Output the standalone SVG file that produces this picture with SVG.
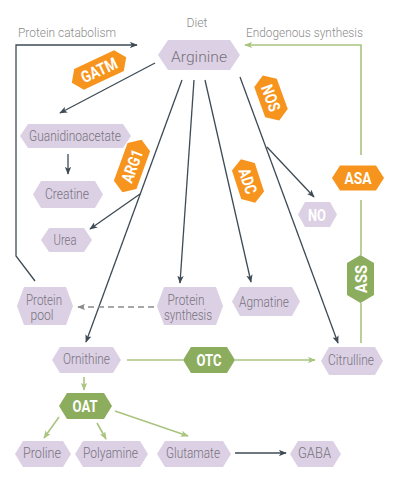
<svg xmlns="http://www.w3.org/2000/svg" width="410" height="486" viewBox="0 0 410 486">
<defs>
<style>
.nd{fill:#dcd0e4}
.lb{font-family:Roboto,"Liberation Sans",sans-serif;font-weight:300;font-size:14px;fill:#77737d}
.hd{font-family:Roboto,"Liberation Sans",sans-serif;font-weight:300;font-size:13.5px;fill:#8c8c8c}
.en{font-family:Roboto,"Liberation Sans",sans-serif;font-weight:700;font-size:16.5px;fill:#ffffff}
.or{fill:#f7941d}
.gr{fill:#8dad5e}
.dk{stroke:#3e4b55;stroke-width:1.3;fill:none}
.gl{stroke:#a9c47f;stroke-width:1.6;fill:none}
.ds{stroke:#8a8a8a;stroke-width:1.6;fill:none;stroke-dasharray:6 4}
</style>
<marker id="ad" viewBox="0 0 10 8" refX="9" refY="4" markerWidth="8" markerHeight="6.4" markerUnits="userSpaceOnUse" orient="auto">
<path d="M0,0 L10,4 L0,8 L2.5,4 z" fill="#3e4b55"/>
</marker>
<marker id="ag" viewBox="0 0 10 8" refX="9" refY="4" markerWidth="8" markerHeight="6.4" markerUnits="userSpaceOnUse" orient="auto">
<path d="M0,0 L10,4 L0,8 L2.5,4 z" fill="#a9c47f"/>
</marker>
<marker id="ay" viewBox="0 0 10 8" refX="9" refY="4" markerWidth="8" markerHeight="6.4" markerUnits="userSpaceOnUse" orient="auto">
<path d="M0,0 L10,4 L0,8 L2.5,4 z" fill="#8a8a8a"/>
</marker>
</defs>
<rect width="410" height="486" fill="#ffffff"/>

<g id="headers">
<text class="hd" x="197" y="27" text-anchor="middle" textLength="21" lengthAdjust="spacingAndGlyphs">Diet</text>
<text class="hd" x="18" y="37" textLength="98" lengthAdjust="spacingAndGlyphs">Protein catabolism</text>
<text class="hd" x="246" y="37" textLength="117" lengthAdjust="spacingAndGlyphs">Endogenous synthesis</text>
</g>

<g id="connectors">
<path class="dk" d="M35,281 L16,256 L16,45 L137,45" marker-end="url(#ad)"/>
<path class="dk" d="M155,63 L60,113" marker-end="url(#ad)"/>
<path class="dk" d="M68,154 L68,174" marker-end="url(#ad)"/>
<path class="dk" d="M182,80 L86,342" marker-end="url(#ad)"/>
<path class="dk" d="M140,194 L90,229" marker-end="url(#ad)"/>
<path class="dk" d="M194,80 L180,283" marker-end="url(#ad)"/>
<path class="dk" d="M205,80 L251,282" marker-end="url(#ad)"/>
<path class="dk" d="M240,77 L338,343" marker-end="url(#ad)"/>
<path class="dk" d="M267,147 L314,197" marker-end="url(#ad)"/>
<path class="dk" d="M235,453 L286,453" marker-end="url(#ad)"/>
<path class="ds" d="M154,307 L78,307" marker-end="url(#ay)"/>
<path class="gl" d="M361,343 L361,303"/>
<path class="gl" d="M361,255 L361,200"/>
<path class="gl" d="M361,155 L361,45 L245,45" marker-end="url(#ag)"/>
<path class="gl" d="M127,360 L183,360"/>
<path class="gl" d="M235,360 L315,360" marker-end="url(#ag)"/>
<path class="gl" d="M84,377 L84,390" marker-end="url(#ag)"/>
<path class="gl" d="M59,417 L44,438" marker-end="url(#ag)"/>
<path class="gl" d="M97,423 L106,439" marker-end="url(#ag)"/>
<path class="gl" d="M115,411 L188,436" marker-end="url(#ag)"/>
</g>

<g id="arginine">
<polygon class="nd" points="158,55 168,40 230,40 240,55 230,70 168,70"/>
<text class="lb" x="199" y="62" text-anchor="middle" font-size="19" textLength="56" lengthAdjust="spacingAndGlyphs">Arginine</text>
</g>
<g id="guanidinoacetate">
<polygon class="nd" points="20,136 28,124 123,124 131,136 123,148 28,148"/>
<text class="lb" x="75" y="141" text-anchor="middle" textLength="92" lengthAdjust="spacingAndGlyphs">Guanidinoacetate</text>
</g>
<g id="creatine">
<polygon class="nd" points="33,194.5 41,181 95,181 103,194.5 95,208 41,208"/>
<text class="lb" x="67" y="199" text-anchor="middle" textLength="44" lengthAdjust="spacingAndGlyphs">Creatine</text>
</g>
<g id="urea">
<polygon class="nd" points="41,240 49,228 84,228 92,240 84,252 49,252"/>
<text class="lb" x="65" y="245" text-anchor="middle" textLength="23" lengthAdjust="spacingAndGlyphs">Urea</text>
</g>
<g id="no">
<polygon class="nd" points="298,214.5 305,202 330,202 337,214.5 330,227 305,227"/>
<text class="en" x="317" y="220.5" text-anchor="middle" textLength="18" lengthAdjust="spacingAndGlyphs">NO</text>
</g>
<g id="protein-pool">
<polygon class="nd" points="17,306 24,287 66,287 73,306 66,325 24,325"/>
<text class="lb" x="44" y="305" text-anchor="middle" textLength="36" lengthAdjust="spacingAndGlyphs">Protein</text>
<text class="lb" x="42" y="320" text-anchor="middle" textLength="23" lengthAdjust="spacingAndGlyphs">pool</text>
</g>
<g id="protein-synthesis">
<polygon class="nd" points="157,306 164,287 216,287 223,306 216,325 164,325"/>
<text class="lb" x="186" y="305" text-anchor="middle" textLength="37" lengthAdjust="spacingAndGlyphs">Protein</text>
<text class="lb" x="188" y="320" text-anchor="middle" textLength="48" lengthAdjust="spacingAndGlyphs">synthesis</text>
</g>
<g id="agmatine">
<polygon class="nd" points="232,301.5 240,287 292,287 300,301.5 292,316 240,316"/>
<text class="lb" x="264" y="307" text-anchor="middle" textLength="50" lengthAdjust="spacingAndGlyphs">Agmatine</text>
</g>
<g id="ornithine">
<polygon class="nd" points="52,360 60,347 113,347 121,360 113,373 60,373"/>
<text class="lb" x="86.5" y="364" text-anchor="middle" textLength="47" lengthAdjust="spacingAndGlyphs">Ornithine</text>
</g>
<g id="citrulline">
<polygon class="nd" points="321,361 329,347 375,347 383,361 375,375 329,375"/>
<text class="lb" x="351" y="365" text-anchor="middle" textLength="46" lengthAdjust="spacingAndGlyphs">Citrulline</text>
</g>
<g id="proline">
<polygon class="nd" points="15,454 23,441 63,441 71,454 63,467 23,467"/>
<text class="lb" x="42" y="458" text-anchor="middle" textLength="38" lengthAdjust="spacingAndGlyphs">Proline</text>
</g>
<g id="polyamine">
<polygon class="nd" points="75,454 83,441 140,441 148,454 140,467 83,467"/>
<text class="lb" x="110.5" y="458" text-anchor="middle" textLength="55" lengthAdjust="spacingAndGlyphs">Polyamine</text>
</g>
<g id="glutamate">
<polygon class="nd" points="157,454 165,441 223,441 231,454 223,467 165,467"/>
<text class="lb" x="193" y="458" text-anchor="middle" textLength="54" lengthAdjust="spacingAndGlyphs">Glutamate</text>
</g>
<g id="gaba">
<polygon class="nd" points="290,454 298,441 333,441 341,454 333,467 298,467"/>
<text class="lb" x="314.5" y="458" text-anchor="middle" textLength="33" lengthAdjust="spacingAndGlyphs">GABA</text>
</g>

<g id="otc">
<polygon class="gr" points="183,360 191,347 227,347 235,360 227,373 191,373"/>
<text class="en" x="209" y="366" text-anchor="middle" textLength="25" lengthAdjust="spacingAndGlyphs">OTC</text>
</g>
<g id="oat">
<polygon class="gr" points="59,406 67,393 104,393 112,406 104,419 67,419"/>
<text class="en" x="85" y="412" text-anchor="middle" textLength="25" lengthAdjust="spacingAndGlyphs">OAT</text>
</g>
<g id="asa">
<polygon class="or" points="332,178 340,165.5 376,165.5 384,178 376,190.5 340,190.5"/>
<text class="en" x="358" y="184" text-anchor="middle" textLength="27" lengthAdjust="spacingAndGlyphs">ASA</text>
</g>
<g id="ass" transform="translate(360.5,279) rotate(-90)">
<polygon class="gr" points="-24,0 -16,-13.5 16,-13.5 24,0 16,13.5 -16,13.5"/>
<text class="en" x="0" y="6" text-anchor="middle" textLength="28" lengthAdjust="spacingAndGlyphs">ASS</text>
</g>
<g id="gatm" transform="translate(99,70) rotate(-25)">
<polygon class="or" points="-30,0 -22,-11.5 22,-11.5 30,0 22,11.5 -22,11.5"/>
<text class="en" x="0" y="6" text-anchor="middle" textLength="38" lengthAdjust="spacingAndGlyphs">GATM</text>
</g>
<g id="nos" transform="translate(271,98) rotate(70)">
<polygon class="or" points="-24,0 -16,-12 16,-12 24,0 16,12 -16,12"/>
<text class="en" x="0" y="6" text-anchor="middle" textLength="27" lengthAdjust="spacingAndGlyphs">NOS</text>
</g>
<g id="adc" transform="translate(248,181) rotate(72)">
<polygon class="or" points="-23,0 -15,-12 15,-12 23,0 15,12 -15,12"/>
<text class="en" x="0" y="6" text-anchor="middle" textLength="26" lengthAdjust="spacingAndGlyphs">ADC</text>
</g>
<g id="arg1" transform="translate(132,166) rotate(-70)">
<polygon class="or" points="-28,0 -20,-12 20,-12 28,0 20,12 -20,12"/>
<text class="en" x="0" y="6" text-anchor="middle" textLength="34" lengthAdjust="spacingAndGlyphs">ARG1</text>
</g>
</svg>
